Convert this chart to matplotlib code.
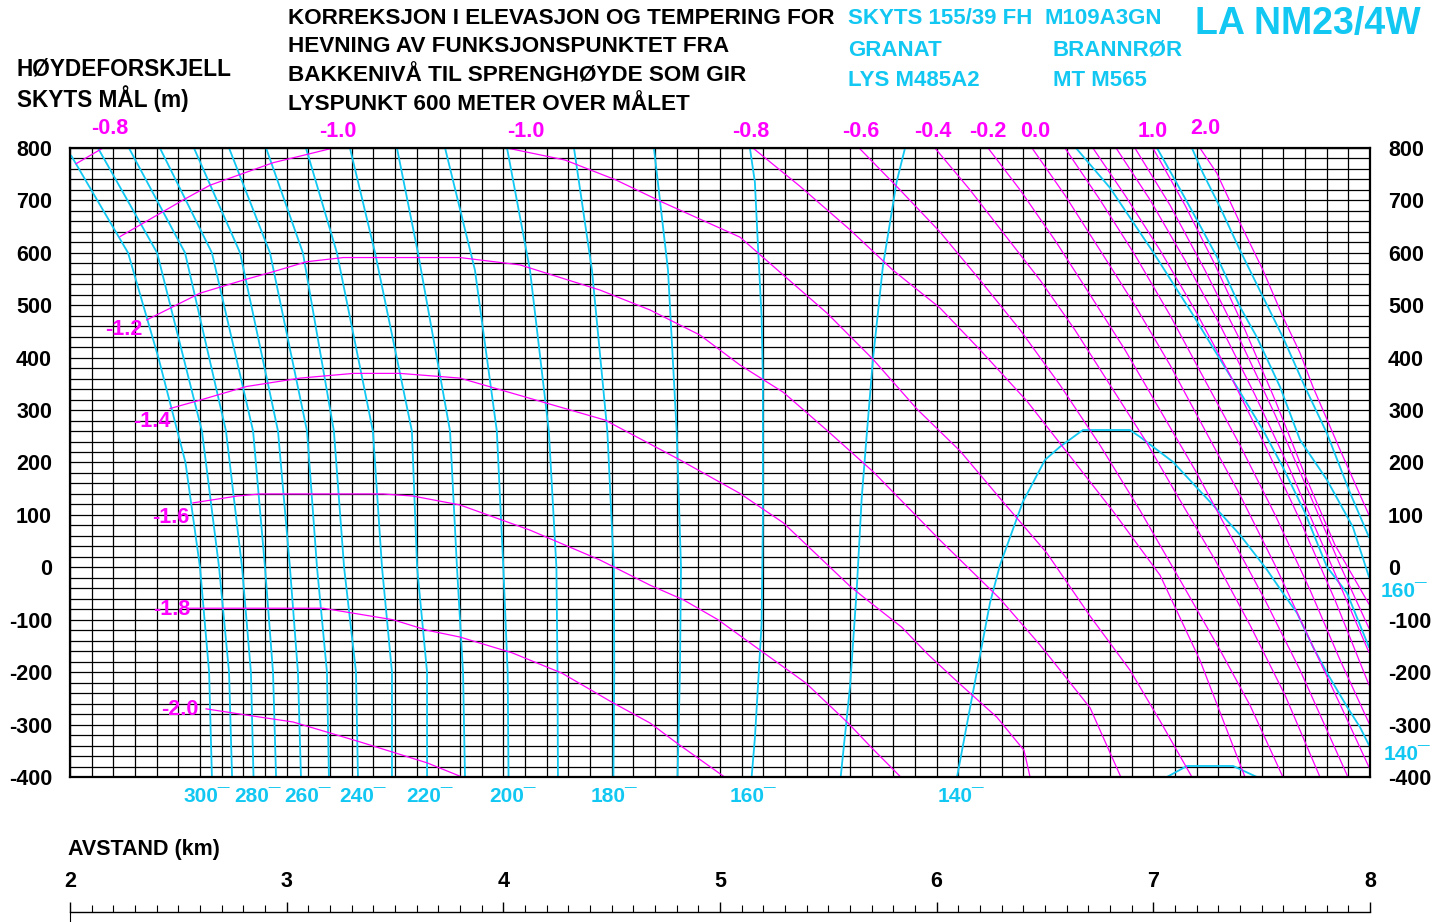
import numpy as np
import matplotlib.pyplot as plt
from matplotlib.ticker import MultipleLocator

plt.rcParams['font.family'] = ['Liberation Sans', 'DejaVu Sans']
plt.rcParams['font.weight'] = 'bold'
plt.rcParams['axes.unicode_minus'] = False

CYAN = '#12c8f2'
MAGENTA = '#ff00ff'

# ---- cyan curves (tempering), points as (avstand km, hoydeforskjell m) ----
fuze_300 = [(2.006, 785), (2.268, 600), (2.408, 400), (2.533, 200), (2.600, 0), (2.642, -200), (2.655, -400)]
fuze_290 = [(2.129, 800), (2.402, 600), (2.609, 260), (2.688, 0), (2.734, -200), (2.748, -400)]
fuze_280 = [(2.272, 800), (2.531, 600), (2.720, 260), (2.794, 0), (2.835, -200), (2.847, -400)]
fuze_270 = [(2.415, 800), (2.655, 600), (2.845, 260), (2.900, 0), (2.937, -200), (2.951, -400)]
fuze_260 = [(2.572, 800), (2.785, 600), (2.960, 260), (3.015, 0), (3.052, -200), (3.066, -400)]
fuze_250 = [(2.734, 800), (2.923, 600), (3.094, 260), (3.140, 0), (3.186, -200), (3.195, -400)]
fuze_240 = [(2.905, 800), (3.075, 600), (3.218, 260), (3.265, 0), (3.320, -200), (3.329, -400)]
fuze_230 = [(3.089, 800), (3.232, 600), (3.398, 260), (3.440, 0), (3.486, -200), (3.486, -400)]
fuze_220 = [(3.292, 800), (3.408, 600), (3.578, 260), (3.602, 0), (3.648, -200), (3.648, -400)]
fuze_210 = [(3.509, 800), (3.606, 600), (3.754, 260), (3.786, 0), (3.814, -200), (3.823, -400)]
fuze_200 = [(3.731, 800), (3.869, 567), (3.970, 260), (4.000, 0), (4.020, -200), (4.024, -400)]
fuze_190 = [(4.017, 800), (4.123, 567), (4.210, 260), (4.245, 0), (4.250, -200), (4.252, -400)]
fuze_180 = [(4.326, 800), (4.409, 567), (4.480, 260), (4.510, 0), (4.512, -200), (4.508, -400)]
fuze_170 = [(4.695, 800), (4.760, 567), (4.800, 260), (4.820, 0), (4.815, -200), (4.804, -400)]
fuze_160 = [(5.138, 800), (5.161, 735), (5.175, 615), (5.192, 478), (5.198, 357), (5.198, 92),
            (5.192, -108), (5.175, -228), (5.161, -326), (5.146, -400)]
fuze_150 = [(5.854, 800), (5.815, 735), (5.752, 575), (5.706, 397), (5.677, 252), (5.654, 132),
            (5.631, -43), (5.600, -228), (5.557, -400)]
fuze_140 = [(6.094, -400), (6.154, -268), (6.246, -68), (6.292, 4), (6.369, 92), (6.398, 125),
            (6.500, 205), (6.569, 230), (6.675, 262), (6.892, 262), (6.938, 249), (7.091, 201),
            (7.275, 119), (7.400, 62), (7.525, -5), (7.598, -49), (7.663, -87), (7.737, -152),
            (7.801, -201), (7.894, -266), (7.954, -305), (7.995, -339)]
fuze_130 = [(7.063, -400), (7.155, -379), (7.368, -379), (7.478, -400)]
fuze_150_r = [(6.643, 800), (6.800, 724), (6.998, 602), (7.178, 485), (7.386, 344), (7.506, 262),
              (7.598, 191), (7.700, 104), (7.801, 1), (7.894, -49), (7.995, -152)]
fuze_160_r = [(7.017, 800), (7.100, 739), (7.201, 663), (7.294, 592), (7.400, 497), (7.478, 439),
              (7.585, 344), (7.677, 243), (7.801, 167), (7.921, 77), (7.995, -18)]
fuze_170_r = [(7.178, 800), (7.229, 752), (7.308, 687), (7.400, 605), (7.506, 516), (7.598, 439),
              (7.700, 344), (7.801, 256), (7.908, 142), (7.995, 58)]

# tempering labels below the chart and at the right edge (km / m position)
fuze_labels = ['300', '280', '260', '240', '220', '200', '180', '160', '140']
fuze_label_km = [2.632, 2.863, 3.094, 3.348, 3.657, 4.040, 4.511, 5.152, 6.112]
fuze_right_labels = ['160', '140']
fuze_right_m = [-47, -358]
fuze_right_km = [8.157, 8.171]

# ---- magenta curves (elevation correction) ----
elev_m08_a = [(2.028, 770), (2.152, 800)]
elev_m10_a = [(2.231, 631), (2.523, 701), (2.646, 729), (2.938, 772), (3.215, 800)]
elev_m12 = [(2.354, 472), (2.600, 523), (2.800, 548), (2.938, 564), (3.092, 583), (3.261, 591),
            (3.800, 591), (4.077, 577), (4.446, 529), (4.677, 491), (4.908, 443), (5.092, 386),
            (5.292, 334), (5.492, 262), (5.708, 182), (6.015, 52), (6.292, -60), (6.477, -148),
            (6.708, -268), (6.850, -400)]
elev_m14 = [(2.462, 303), (2.600, 319), (2.815, 345), (3.062, 361), (3.308, 370), (3.523, 370),
            (3.800, 361), (4.469, 281), (4.815, 205), (5.092, 141), (5.292, 85), (5.600, -36),
            (5.678, -62), (5.838, -114), (5.962, -167), (6.103, -221), (6.278, -286),
            (6.403, -349), (6.431, -400)]
elev_m16 = [(2.568, 123), (2.771, 136), (2.877, 140), (3.445, 140), (3.583, 136), (3.800, 119),
            (4.123, 71), (4.446, 14), (4.677, -34), (4.831, -62), (4.991, -100), (5.185, -158),
            (5.397, -221), (5.591, -297), (5.697, -343), (5.834, -400)]
elev_m18 = [(2.545, -78), (3.168, -78), (3.491, -100), (3.648, -120), (3.800, -133), (4.040, -163),
            (4.271, -202), (4.500, -257), (4.677, -297), (4.800, -335), (5.021, -400)]
elev_m20 = [(2.628, -270), (2.817, -282), (3.029, -295), (3.338, -333), (3.648, -373), (3.809, -400)]
elev_m10_b = [(4.017, 800), (4.285, 777), (4.520, 739), (4.732, 697), (5.092, 630), (5.291, 558),
              (5.494, 485), (5.706, 397), (5.909, 302), (6.108, 222), (6.306, 125), (6.509, 27),
              (6.708, -93), (6.892, -196), (7.031, -293), (7.178, -400)]
elev_m08_b = [(5.152, 800), (5.369, 727), (5.600, 644), (5.798, 567), (6.015, 495), (6.200, 415),
              (6.417, 317), (6.629, 205), (6.814, 107), (7.031, -15), (7.215, -177), (7.423, -400)]
elev_m06 = [(5.642, 800), (5.831, 720), (6.015, 640), (6.200, 548), (6.385, 453), (6.569, 348),
            (6.754, 233), (6.938, 109), (7.123, -24), (7.308, -158), (7.446, -263), (7.598, -400)]
elev_m04 = [(5.992, 800), (6.154, 720), (6.315, 634), (6.477, 548), (6.638, 453), (6.800, 348),
            (6.962, 243), (7.123, 128), (7.285, 14), (7.446, -110), (7.608, -244), (7.769, -400)]
elev_m02 = [(6.237, 800), (6.385, 720), (6.546, 624), (6.708, 520), (6.869, 415), (7.031, 300),
            (7.192, 186), (7.354, 62), (7.515, -62), (7.677, -196), (7.898, -400)]
elev_00 = [(6.440, 800), (6.592, 710), (6.754, 605), (6.915, 500), (7.077, 386), (7.238, 262),
           (7.400, 138), (7.562, 4), (7.723, -139), (7.885, -282), (7.995, -381)]
elev_02 = [(6.592, 800), (6.754, 701), (6.915, 596), (7.077, 481), (7.238, 357), (7.400, 233),
           (7.562, 100), (7.723, -43), (7.862, -177), (7.995, -297)]
elev_04 = [(6.721, 800), (6.869, 710), (7.031, 605), (7.192, 491), (7.354, 367), (7.515, 233),
           (7.677, 90), (7.838, -62), (7.995, -224)]
elev_06 = [(6.828, 800), (6.985, 701), (7.146, 586), (7.308, 462), (7.469, 329), (7.631, 186),
           (7.792, 33), (7.995, -162)]
elev_08 = [(6.915, 800), (7.077, 691), (7.238, 567), (7.400, 434), (7.562, 291), (7.723, 138),
           (7.862, 4), (7.995, -116)]
elev_10 = [(6.998, 800), (7.146, 691), (7.285, 577), (7.423, 453), (7.562, 319), (7.700, 176),
           (7.838, 43), (7.995, -70)]
elev_20 = [(7.215, 800), (7.293, 752), (7.400, 657), (7.506, 567), (7.598, 478), (7.677, 409),
           (7.737, 344), (7.862, 224), (7.995, 100)]

# label text and position (km, m)
elev_label_text = ['-0.8', '-1.0', '-1.0', '-0.8', '-0.6', '-0.4', '-0.2', '0.0', '1.0', '2.0',
                   '-1.2', '-1.4', '-1.6', '-1.8', '-2.0']
elev_label_km = [2.185, 3.237, 4.105, 5.143, 5.651, 5.983, 6.237, 6.454, 6.998, 7.238,
                 2.249, 2.378, 2.466, 2.471, 2.508]
elev_label_m = [838, 832, 832, 832, 832, 832, 832, 832, 832, 838,
                453, 279, 96, -81, -272]

# ---- figure ----
fig = plt.figure(figsize=(14.37, 9.22), dpi=100)
ax = fig.add_axes([70 / 1437, 145 / 922, 1300 / 1437, 629 / 922])
ax.set_xlim(2, 8)
ax.set_ylim(-400, 800)
ax.xaxis.set_major_locator(MultipleLocator(1))
ax.xaxis.set_minor_locator(MultipleLocator(0.1))
ax.yaxis.set_major_locator(MultipleLocator(100))
ax.yaxis.set_minor_locator(MultipleLocator(20))
ax.grid(which='both', color='black', lw=0.9)
ax.set_axisbelow(True)
ax.tick_params(which='both', length=0, labelbottom=False, labelleft=True,
               labelright=True, labelsize=15.5, pad=13)
for sp in ax.spines.values():
    sp.set_linewidth(1.6)

cyan_curves = [fuze_300, fuze_290, fuze_280, fuze_270, fuze_260, fuze_250, fuze_240, fuze_230,
               fuze_220, fuze_210, fuze_200, fuze_190, fuze_180, fuze_170, fuze_160, fuze_150,
               fuze_140, fuze_130, fuze_150_r, fuze_160_r, fuze_170_r]
for c in cyan_curves:
    a = np.array(c)
    ax.plot(a[:, 0], a[:, 1], color=CYAN, lw=1.3)

mag_curves = [elev_m08_a, elev_m10_a, elev_m12, elev_m14, elev_m16, elev_m18, elev_m20,
              elev_m10_b, elev_m08_b, elev_m06, elev_m04, elev_m02, elev_00, elev_02,
              elev_04, elev_06, elev_08, elev_10, elev_20]
for c in mag_curves:
    a = np.array(c)
    ax.plot(a[:, 0], a[:, 1], color=MAGENTA, lw=0.9)

for t, x, y in zip(elev_label_text, elev_label_km, elev_label_m):
    ax.text(x, y, t, color=MAGENTA, fontsize=15.5, ha='center', va='center')

for lab, x in zip(fuze_labels, fuze_label_km):
    ax.text(x, -438, lab + '\u00af', color=CYAN, fontsize=15, ha='center', va='center')
for lab, x, y in zip(fuze_right_labels, fuze_right_km, fuze_right_m):
    ax.text(x, y, lab + '\u00af', color=CYAN, fontsize=15, ha='center', va='center')

# avstand ruler at the bottom
ax2 = fig.add_axes([70 / 1437, 10 / 922, 1300 / 1437, 20 / 922])
ax2.set_xlim(2, 8)
ax2.set_ylim(0, 1)
ax2.patch.set_alpha(0)
for s in ['left', 'right', 'top']:
    ax2.spines[s].set_visible(False)
ax2.spines['bottom'].set_linewidth(1.0)
ax2.set_yticks([])
ax2.xaxis.set_major_locator(MultipleLocator(1))
ax2.xaxis.set_minor_locator(MultipleLocator(0.1))
ax2.tick_params(axis='x', which='major', direction='in', length=7, width=1.0,
                labelbottom=False, labeltop=True, labelsize=15.5, pad=0)
ax2.tick_params(axis='x', which='minor', direction='in', length=5, width=0.8)
ax2.plot([2, 2], [0, -0.5], color='black', lw=0.8, clip_on=False)

# texts
def ftext(x, y, s, **kw):
    fig.text(x / 1437, 1 - y / 922, s, va='center', ha='left', **kw)

ftext(68, 849, 'AVSTAND (km)', fontsize=15.5)
ftext(17, 69, 'HØYDEFORSKJELL', fontsize=16.3)
ftext(17, 99, 'SKYTS MÅL (m)', fontsize=16.3)
title_lines = ['KORREKSJON I ELEVASJON OG TEMPERING FOR',
               'HEVNING AV FUNKSJONSPUNKTET FRA',
               'BAKKENIVÅ TIL SPRENGHØYDE SOM GIR',
               'LYSPUNKT 600 METER OVER MÅLET']
for i, s in enumerate(title_lines):
    ftext(288, 18 + i * 29, s, fontsize=16.2)
ftext(848, 18, 'SKYTS 155/39 FH', fontsize=16, color=CYAN)
ftext(1044, 18, 'M109A3GN', fontsize=16, color=CYAN)
ftext(848, 50, 'GRANAT', fontsize=16, color=CYAN)
ftext(1053, 50, 'BRANNRØR', fontsize=16, color=CYAN)
ftext(848, 80, 'LYS M485A2', fontsize=16, color=CYAN)
ftext(1053, 80, 'MT M565', fontsize=16, color=CYAN)
ftext(1195, 24, 'LA NM23/4W', fontsize=27, color=CYAN)

fig.savefig('out.png', dpi=100)
